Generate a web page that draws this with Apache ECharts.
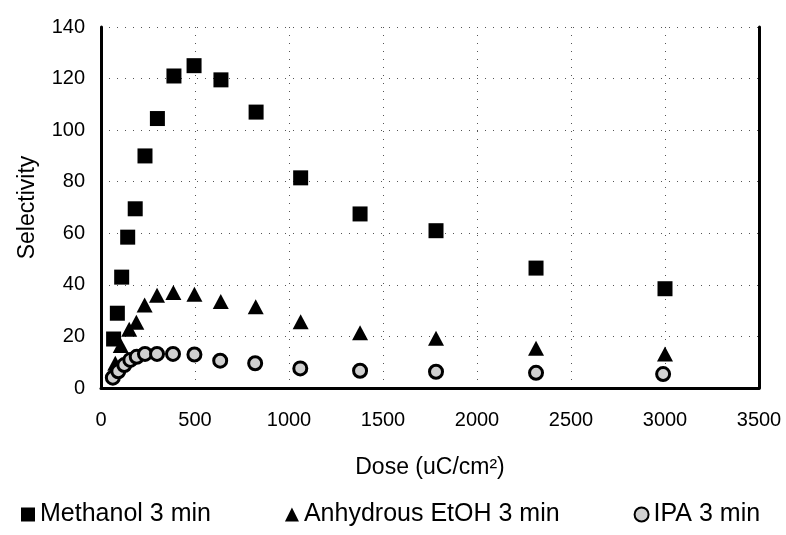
<!DOCTYPE html>
<html>
<head>
<meta charset="utf-8">
<script src="https://cdn.jsdelivr.net/npm/echarts@6/dist/echarts.min.js"></script>
<style>
html,body{margin:0;padding:0;background:#fff;}
#chart{width:786px;height:535px;}
</style>
</head>
<body>
<div id="chart"></div>
<script>
// Data
const seriesNames = ['Methanol 3 min', 'Anhydrous EtOH 3 min', 'IPA 3 min'];

const methanolDose = [67, 87, 110, 142, 182, 234, 300, 388, 495, 638, 825, 1062, 1378, 1782, 2314, 3000];
const methanolSel  = [19, 29, 43, 58.5, 69.5, 90, 104.5, 121, 125, 119.5, 107, 81.5, 67.5, 61, 46.5, 38.5];

const etohDose = [76, 105, 150, 188, 232, 298, 385, 497, 637, 823, 1062, 1378, 1782, 2314, 3000];
const etohSel  = [9.6, 16.5, 22.8, 25.5, 32.2, 36, 37, 36.4, 33.5, 31.5, 25.7, 21.4, 19.3, 15.4, 13.2];

const ipaDose = [63, 92, 124, 156, 190, 234, 298, 383, 497, 634, 820, 1060, 1378, 1782, 2314, 2990];
const ipaSel  = [4, 6.5, 8.9, 10.9, 12.1, 13.2, 13.2, 13.2, 13, 10.6, 9.6, 7.6, 6.7, 6.3, 5.9, 5.4];

const xTicks = {min: 0, max: 3500, interval: 500};
const yTicks = {min: 0, max: 140, interval: 20};

function pairs(xs, ys) { return xs.map((x, i) => [x, ys[i]]); }

const chart = echarts.init(document.getElementById('chart'), null, {renderer: 'canvas'});
const font = 'Liberation Sans, Arial, sans-serif';
const gridLine = {show: true, lineStyle: {color: '#555', width: 1, type: [1, 7]}};

chart.setOption({
  animation: false,
  backgroundColor: '#fff',
  grid: {left: 101, right: 27, top: 27, bottom: 147},
  legend: {
    bottom: 3, left: 16,
    itemGap: 74, itemWidth: 14, itemHeight: 14,
    textStyle: {fontFamily: font, fontSize: 25, color: '#000'},
    data: seriesNames
  },
  xAxis: {
    type: 'value', min: xTicks.min, max: xTicks.max, interval: xTicks.interval,
    name: 'Dose (uC/cm²)', nameLocation: 'middle', nameGap: 68,
    nameTextStyle: {fontFamily: font, fontSize: 23, color: '#000'},
    axisLine: {show: true, onZero: false, lineStyle: {color: '#000', width: 3}},
    axisTick: {show: false},
    axisLabel: {fontFamily: font, fontSize: 20, color: '#000', margin: 22,
      formatter: v => String(v)},
    splitLine: gridLine
  },
  yAxis: [{
    type: 'value', min: yTicks.min, max: yTicks.max, interval: yTicks.interval,
    name: 'Selectivity', nameLocation: 'middle', nameGap: 62,
    nameTextStyle: {fontFamily: font, fontSize: 23, color: '#000'},
    axisLine: {show: true, lineStyle: {color: '#000', width: 3}},
    axisTick: {show: false},
    axisLabel: {fontFamily: font, fontSize: 20, color: '#000', margin: 16},
    splitLine: gridLine
  }, {
    type: 'value', min: yTicks.min, max: yTicks.max, interval: yTicks.interval,
    position: 'right',
    axisLine: {show: true, lineStyle: {color: '#000', width: 3}},
    axisTick: {show: false}, axisLabel: {show: false}, splitLine: {show: false}
  }],
  series: [{
    name: seriesNames[0], type: 'scatter', symbol: 'rect', symbolSize: 15,
    itemStyle: {color: '#000', opacity: 1},
    data: pairs(methanolDose, methanolSel), z: 3
  }, {
    name: seriesNames[1], type: 'scatter', symbol: 'triangle', symbolSize: [16, 15],
    itemStyle: {color: '#000', opacity: 1},
    data: pairs(etohDose, etohSel), z: 4
  }, {
    name: seriesNames[2], type: 'scatter', symbol: 'circle', symbolSize: 13,
    itemStyle: {color: '#d0d0d0', borderColor: '#000', borderWidth: 3, opacity: 1},
    data: pairs(ipaDose, ipaSel), z: 5
  }]
});
</script>
</body>
</html>
